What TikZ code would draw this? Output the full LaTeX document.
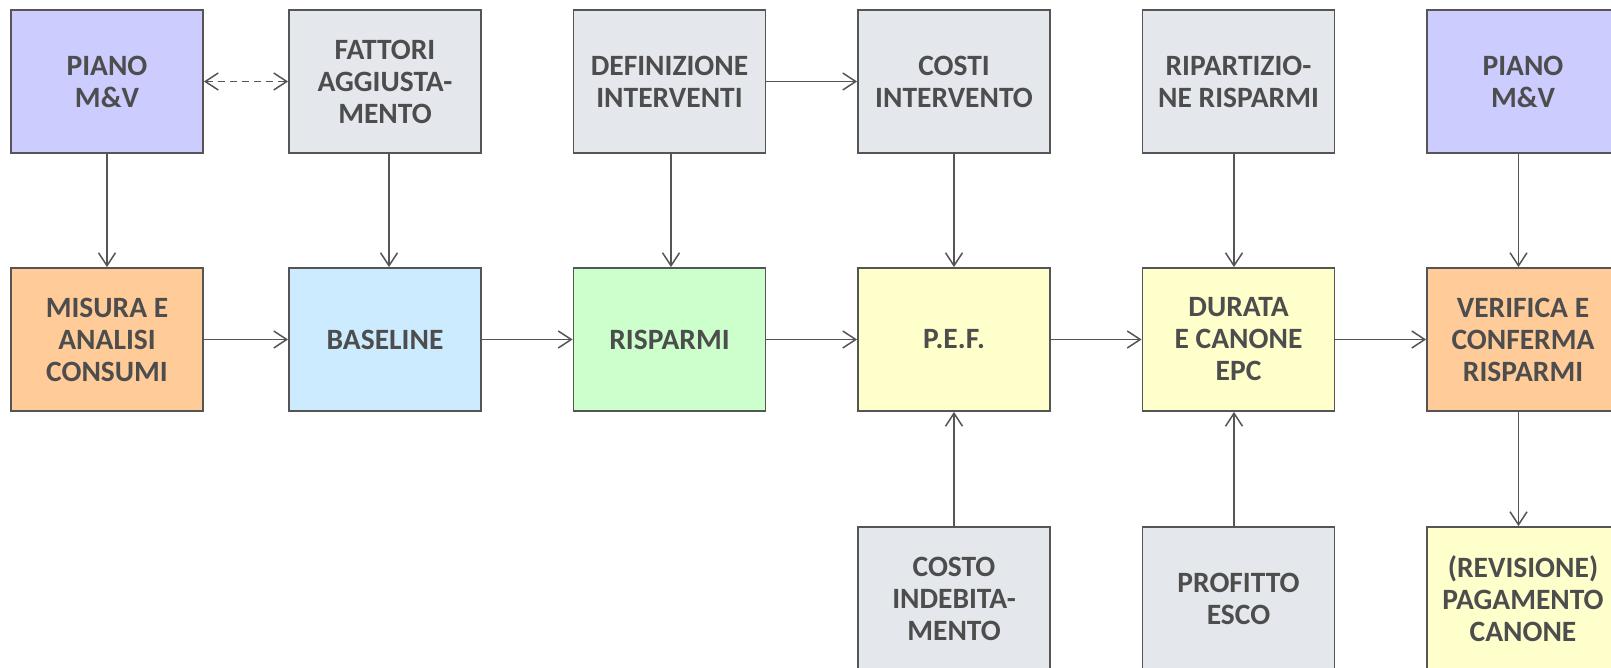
\documentclass[tikz,border=0pt]{standalone}
\usepackage{fontspec}
\setmainfont{Carlito}
\usetikzlibrary{arrows.meta}
\definecolor{cPurple}{HTML}{CCCCFF}
\definecolor{cGray}{HTML}{E4E7EC}
\definecolor{cOrange}{HTML}{FFCC99}
\definecolor{cBlue}{HTML}{CCEBFF}
\definecolor{cGreen}{HTML}{CCFFCC}
\definecolor{cYellow}{HTML}{FFFFCC}
\definecolor{cLine}{HTML}{555555}
\definecolor{cText}{HTML}{4D4D4D}
\tikzset{
  boxnode/.style={draw=cLine, line width=1.8pt, minimum width=192pt, minimum height=143pt,
    inner sep=0pt, align=center, text=cText,
    font=\fontsize{29.5}{32}\selectfont\bfseries},
  conn/.style={draw=cLine, line width=1.5pt, -{Straight Barb[length=13pt,width=17pt,line width=1.5pt]}},
  dconn/.style={draw=cLine, line width=1.5pt, dash pattern=on 7pt off 5pt,
    {Straight Barb[length=13pt,width=17pt,line width=1.5pt]}-{Straight Barb[length=13pt,width=17pt,line width=1.5pt]}}
}
\begin{document}
\begin{tikzpicture}[x=1pt,y=-1pt]
\useasboundingbox (0,0) rectangle (1611,668);
\clip (0,0) rectangle (1611,668);
\fill[white] (0,0) rectangle (1611,668);
% row 1
\node[boxnode, fill=cPurple] (piano1) at (107,81.5) {PIANO\\M\&V};
\node[boxnode, fill=cGray] (fattori) at (385,81.5) {FATTORI\\AGGIUSTA-\\MENTO};
\node[boxnode, fill=cGray] (defin) at (669.5,81.5) {DEFINIZIONE\\INTERVENTI};
\node[boxnode, fill=cGray] (costi) at (954,81.5) {COSTI\\INTERVENTO};
\node[boxnode, fill=cGray] (ripart) at (1238.5,81.5) {RIPARTIZIO-\\NE RISPARMI};
\node[boxnode, fill=cPurple] (piano2) at (1523,81.5) {PIANO\\M\&V};
% row 2
\node[boxnode, fill=cOrange] (misura) at (107,339.5) {MISURA E\\ANALISI\\CONSUMI};
\node[boxnode, fill=cBlue] (baseline) at (385,339.5) {BASELINE};
\node[boxnode, fill=cGreen] (risparmi) at (669.5,339.5) {RISPARMI};
\node[boxnode, fill=cYellow] (pef) at (954,339.5) {P.E.F.};
\node[boxnode, fill=cYellow] (durata) at (1238.5,339.5) {DURATA\\E CANONE\\EPC};
\node[boxnode, fill=cOrange] (verifica) at (1523,339.5) {VERIFICA E\\CONFERMA\\RISPARMI};
% row 3
\node[boxnode, fill=cGray] (costo) at (954,598.5) {COSTO\\INDEBITA-\\MENTO};
\node[boxnode, fill=cGray] (profitto) at (1238.5,598.5) {PROFITTO\\ESCO};
\node[boxnode, fill=cYellow] (revisione) at (1523,598.5) {(REVISIONE)\\PAGAMENTO\\CANONE};
% connectors
\draw[dconn] (piano1) -- (fattori);
\draw[conn] (defin) -- (costi);
\draw[conn] (piano1) -- (misura);
\draw[conn] ([xshift=4pt]fattori.south) -- ([xshift=4pt]baseline.north);
\draw[conn] ([xshift=1.5pt]defin.south) -- ([xshift=1.5pt]risparmi.north);
\draw[conn] (costi) -- (pef);
\draw[conn] ([xshift=-4.5pt]ripart.south) -- ([xshift=-4.5pt]durata.north);
\draw[conn] ([xshift=-4.5pt]piano2.south) -- ([xshift=-4.5pt]verifica.north);
\draw[conn] (misura) -- (baseline);
\draw[conn] (baseline) -- (risparmi);
\draw[conn] (risparmi) -- (pef);
\draw[conn] (pef) -- (durata);
\draw[conn] (durata) -- (verifica);
\draw[conn] (costo) -- (pef);
\draw[conn] ([xshift=-4.5pt]profitto.north) -- ([xshift=-4.5pt]durata.south);
\draw[conn] ([xshift=-4.5pt]verifica.south) -- ([xshift=-4.5pt]revisione.north);
\end{tikzpicture}
\end{document}
